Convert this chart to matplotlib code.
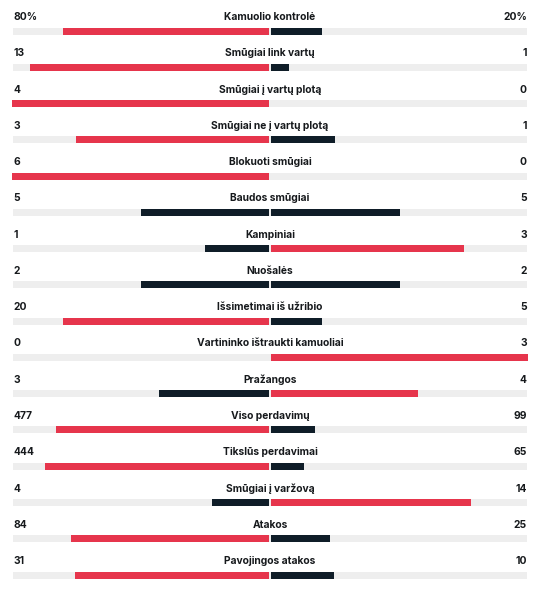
import matplotlib.pyplot as plt

labels = ["Kamuolio kontrolė", "Smūgiai link vartų", "Smūgiai į vartų plotą",
          "Smūgiai ne į vartų plotą", "Blokuoti smūgiai", "Baudos smūgiai",
          "Kampiniai", "Nuošalės", "Išsimetimai iš užribio",
          "Vartininko ištraukti kamuoliai", "Pražangos", "Viso perdavimų",
          "Tikslūs perdavimai", "Smūgiai į varžovą", "Atakos", "Pavojingos atakos"]
home = [80, 13, 4, 3, 6, 5, 1, 2, 20, 0, 3, 477, 444, 4, 84, 31]
away = [20, 1, 0, 1, 0, 5, 3, 2, 5, 3, 4, 99, 65, 14, 25, 10]
suffix = ["%"] + [""] * 15

RED = "#e6354c"
DARK = "#0f1d28"
TRACK = "#eeeeee"
TXT = "#16191c"

plt.rcParams['font.family'] = ['Inter', 'DejaVu Sans']

fig = plt.figure(figsize=(5.44, 5.90), dpi=100)
ax = fig.add_axes([0, 0, 1, 1])
ax.set_xlim(0, 544)
ax.set_ylim(590, 0)
ax.axis('off')

left_x, right_x, mid = 13, 527, 270
half = mid - left_x
row_h = 36.27
for i, (lab, h, a, s) in enumerate(zip(labels, home, away, suffix)):
    ty = 17 + i * row_h
    by = ty + 14
    ax.text(mid, ty, lab, ha='center', va='center', fontsize=7.4,
            fontweight='bold', color=TXT)
    ax.text(left_x, ty, f"{h}{s}", ha='left', va='center', fontsize=7.4,
            fontweight='bold', color=TXT)
    ax.text(right_x, ty, f"{a}{s}", ha='right', va='center', fontsize=7.4,
            fontweight='bold', color=TXT)
    ax.barh(by, right_x - left_x, left=left_x, height=7, color=TRACK)
    tot = h + a
    if h == a:
        hc, ac = DARK, DARK
    elif h > a:
        hc, ac = RED, DARK
    else:
        hc, ac = DARK, RED
    if h > 0:
        ax.barh(by, -h / tot * half, left=mid - 1, height=7, color=hc)
    if a > 0:
        ax.barh(by, a / tot * half, left=mid + 1, height=7, color=ac)

fig.savefig("out.png", dpi=100)
